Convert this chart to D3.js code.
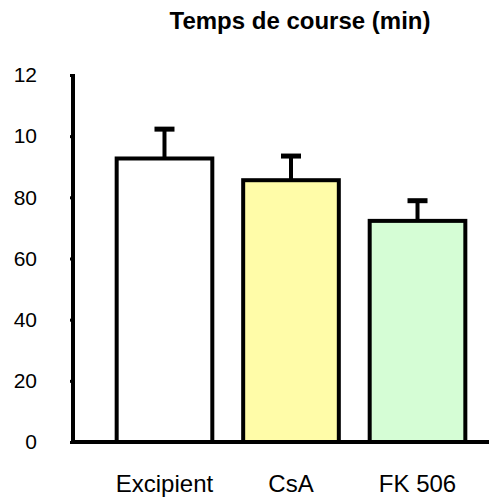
<!DOCTYPE html>
<html lang="en">
<head>
<meta charset="utf-8">
<script src="https://d3js.org/d3.v7.min.js"></script>
<style>
  body { margin: 0; background: #fff; }
  text { font-family: "Liberation Sans", Arial, sans-serif; fill: #000; }
</style>
</head>
<body>
<script>
// data
var categories = ["Excipient", "CsA", "FK 506"];
var means = [92.7, 85.6, 72.3];
var errors = [9.6, 7.9, 6.6];
var fills = ["#ffffff", "#fffca8", "#d5fdd5"];
var tickValues = [0, 20, 40, 60, 80, 100, 120];
var tickLabels = ["0", "20", "40", "60", "80", "10", "12"];

var width = 489, height = 499;

var svg = d3.select("body").append("svg")
    .attr("width", width)
    .attr("height", height);

var x = d3.scaleBand()
    .domain(categories)
    .range([85.8, 496.2])
    .padding(0.244);

var y = d3.scaleLinear()
    .domain([0, 120])
    .range([442, 75]);

// title
svg.append("text")
    .attr("x", 300)
    .attr("y", 29)
    .attr("text-anchor", "middle")
    .attr("font-weight", "bold")
    .attr("font-size", 24)
    .text("Temps de course (min)");

// y axis
var yAxis = svg.append("g")
    .attr("transform", "translate(73,0)")
    .call(d3.axisLeft(y)
        .tickValues(tickValues)
        .tickSize(3)
        .tickPadding(33)
        .tickFormat(function(d, i) { return tickLabels[i]; }));
yAxis.select(".domain").remove();
yAxis.selectAll(".tick line").attr("stroke-width", 3);
yAxis.selectAll(".tick text")
    .attr("font-size", 21)
    .attr("font-family", "Liberation Sans, Arial, sans-serif");

svg.append("line")
    .attr("x1", 73).attr("x2", 73)
    .attr("y1", y(120) - 1).attr("y2", y(0) + 2)
    .attr("stroke", "#000")
    .attr("stroke-width", 4);

// error bars
var eb = svg.selectAll(".err")
    .data(categories)
    .enter().append("g")
    .attr("class", "err");

eb.append("line")
    .attr("x1", function(d) { return x(d) + x.bandwidth() / 2; })
    .attr("x2", function(d) { return x(d) + x.bandwidth() / 2; })
    .attr("y1", function(d, i) { return y(means[i]); })
    .attr("y2", function(d, i) { return y(means[i] + errors[i]); })
    .attr("stroke", "#000")
    .attr("stroke-width", 4);

eb.append("line")
    .attr("x1", function(d) { return x(d) + x.bandwidth() / 2 - 10; })
    .attr("x2", function(d) { return x(d) + x.bandwidth() / 2 + 10; })
    .attr("y1", function(d, i) { return y(means[i] + errors[i]); })
    .attr("y2", function(d, i) { return y(means[i] + errors[i]); })
    .attr("stroke", "#000")
    .attr("stroke-width", 5);

// bars
svg.selectAll(".bar")
    .data(categories)
    .enter().append("rect")
    .attr("class", "bar")
    .attr("x", function(d) { return x(d); })
    .attr("width", x.bandwidth())
    .attr("y", function(d, i) { return y(means[i]); })
    .attr("height", function(d, i) { return y(0) - y(means[i]); })
    .attr("fill", function(d, i) { return fills[i]; })
    .attr("stroke", "#000")
    .attr("stroke-width", 4);

// x axis
svg.append("line")
    .attr("x1", 71).attr("x2", width)
    .attr("y1", y(0)).attr("y2", y(0))
    .attr("stroke", "#000")
    .attr("stroke-width", 4);

svg.selectAll(".xlab")
    .data(categories)
    .enter().append("text")
    .attr("class", "xlab")
    .attr("x", function(d) { return x(d) + x.bandwidth() / 2; })
    .attr("y", 492)
    .attr("text-anchor", "middle")
    .attr("font-size", 24)
    .text(function(d) { return d; });
</script>
</body>
</html>
